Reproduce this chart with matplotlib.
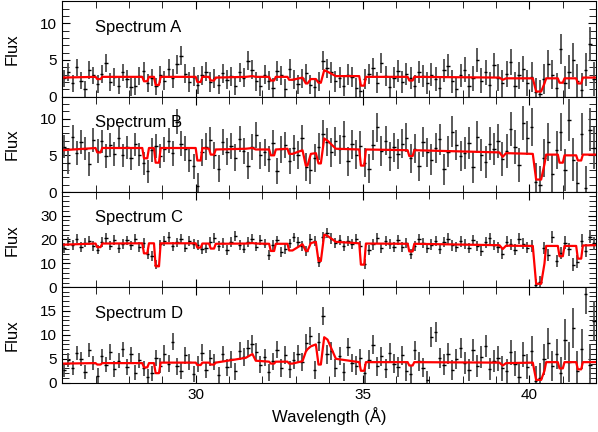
import numpy as np
import matplotlib
matplotlib.use("Agg")
import matplotlib.pyplot as plt
from matplotlib.ticker import MultipleLocator

plt.rcParams['font.family'] = ['Liberation Sans', 'DejaVu Sans']

### binned spectra: 8 bins per Angstrom from 26 to 42
wave = np.arange(26.0625, 42.0, 0.125)

flux_a = [2.5, 3.4, 1.8, 4.0, 2.2, 1.0, 3.6, 2.9,
          1.7, 3.1, 4.6, 2.0, 2.7, 1.5, 3.3, 2.4,
          1.3, 1.4, 2.8, 3.5, 1.9, 2.6, 1.4, 3.0,
          2.2, 3.8, 2.5, 4.4, 5.6, 3.1, 2.0, 2.7,
          1.6, 2.9, 3.4, 2.0, 2.5, 1.6, 3.2, 2.3,
          2.8, 1.5, 3.3, 2.6, 4.9, 3.7, 2.1, 1.4,
          3.0, 2.2, 1.2, 3.5, 2.9, 1.1, 3.8, 2.4,
          1.7, 2.5, 3.2, 1.6, 1.3, 2.1, 4.9, 3.9,
          3.3, 2.1, 2.6, 1.5, 3.0, 2.7, 1.2, 0.8,
          2.4, 3.1, 3.9, 1.9, 4.6, 2.8, 1.3, 2.6,
          3.5, 2.0, 3.1, 2.6, 1.5, 3.3, 2.8, 1.9,
          3.0, 2.4, 1.2, 3.6, 4.2, 2.1, 1.0, 2.9,
          3.7, 1.4, 2.5, 5.0, 2.2, 3.3, 1.6, 4.3,
          2.6, 1.8, 3.1, 4.7, 1.5, 2.9, 3.8, 1.9,
          2.7, 0.6, 0.3, 2.4, 4.4, 3.0, 1.2, 6.5,
          1.9, 3.4, 5.0, 2.1, 0.9, 3.7, 7.2, 2.4]

flux_b = [6.2, 4.0, 7.5, 5.3, 6.8, 5.9, 3.8, 7.1,
          5.6, 6.9, 4.9, 6.4, 5.2, 7.4, 5.0, 6.1,
          4.6, 6.5, 5.1, 3.9, 2.8, 5.7, 6.3, 4.9,
          5.8, 7.0, 5.3, 9.6, 6.6, 5.9, 4.4, 3.5,
          0.8, 5.4, 6.2, 7.1, 5.0, 3.2, 6.8, 5.5,
          6.3, 4.7, 7.2, 5.6, 3.6, 6.1, 7.8, 5.0,
          5.4, 4.5, 6.7, 2.9, 5.8, 6.4, 4.2, 6.0,
          5.1, 7.3, 3.4, 3.0, 4.6, 6.2, 7.9, 6.8,
          5.4, 6.9, 5.8, 7.7, 4.2, 6.5, 5.1, 6.3,
          4.0, 3.2, 6.4, 8.8, 5.6, 7.0, 4.8, 6.1,
          5.2, 6.6, 7.4, 4.6, 5.9, 3.5, 6.8, 5.4,
          4.4, 6.0, 7.2, 3.1, 5.5, 8.2, 6.4, 4.9,
          5.3, 6.7, 3.4, 7.5, 5.0, 4.1, 6.6, 5.9,
          7.0, 4.5, 5.6, 8.6, 6.1, 3.7, 9.4, 7.4,
          8.9, 1.4, 0.9, 4.6, 6.8, 2.5, 5.7, 8.2,
          3.0, 9.8, 4.4, 1.2, 7.9, 0.6, 8.5, 6.0]

flux_c = [16.5, 19.2, 17.8, 20.4, 16.9, 18.7, 19.5, 17.2,
          15.8, 18.9, 20.7, 17.4, 19.8, 16.3, 18.2, 19.6,
          17.5, 20.3, 16.8, 18.6, 14.0, 13.2, 9.5, 17.9,
          19.3, 21.0, 17.1, 18.8, 20.2, 16.6, 19.4, 18.1,
          17.7, 15.9, 16.4, 19.1, 20.6, 17.3, 18.5, 15.6,
          19.0, 21.5, 17.6, 16.2, 18.9, 20.1, 17.0, 19.7,
          18.3, 13.5, 17.7, 19.6, 14.8, 16.1, 18.4, 20.9,
          18.8, 17.2, 15.0, 20.3, 19.2, 10.6, 21.1, 22.7,
          20.4, 18.6, 19.8, 17.1, 19.5, 18.0, 20.2, 17.4,
          9.7, 15.5, 17.9, 20.8, 16.6, 19.3, 18.1, 17.0,
          19.9, 16.8, 18.5, 13.9, 17.4, 20.1, 18.7, 16.3,
          17.8, 19.4, 16.1, 18.9, 20.3, 17.5, 16.9, 19.2,
          18.1, 16.4, 19.7, 17.3, 15.2, 18.8, 20.5, 17.6,
          16.7, 14.1, 19.0, 17.9, 15.8, 20.4, 18.3, 16.5,
          17.2, 0.8, 2.4, 16.6, 13.4, 20.9, 11.2, 14.5,
          18.6, 16.0, 9.5, 10.8, 19.5, 15.3, 21.2, 18.4]

flux_d = [2.6, 4.8, 3.1, 6.2, 5.0, 2.3, 6.8, 4.1,
          1.5, 5.5, 3.8, 6.4, 2.9, 4.6, 7.0, 3.3,
          5.9, 2.1, 4.7, 3.0, 1.2, 2.0, 5.2, 3.6,
          6.1, 4.0, 8.6, 3.4, 2.5, 5.7, 4.3, 1.8,
          3.9, 6.3, 2.7, 5.1, 4.4, 1.6, 6.0, 3.2,
          4.9, 2.4, 6.6, 5.4, 7.2, 8.1, 6.4, 3.8,
          5.3, 2.2, 4.5, 6.9, 3.1, 5.8, 2.8, 4.7,
          6.0, 4.4, 8.3, 9.7, 2.6, 8.5, 14.0, 5.9,
          6.7, 3.0, 5.6, 2.3, 7.4, 4.2, 3.6, 5.1,
          2.0, 4.8, 7.9, 3.4, 5.5, 2.9, 6.2, 4.0,
          3.3, 5.7, 2.4, 1.8, 6.8, 4.5, 3.1, 0.5,
          9.5, 10.6, 5.2, 3.8, 6.1, 2.7, 4.9, 7.3,
          4.2, 2.6, 6.9, 3.5, 5.4, 7.7, 2.8, 4.6,
          5.1, 3.0, 2.4, 6.4, 4.0, 1.3, 5.8, 3.3,
          6.6, 0.4, 1.0, 4.9, 8.2, 3.5, 6.0, 2.1,
          9.0, 4.3, 11.5, 2.5, 7.1, 18.6, 3.8, 12.9]

# 1-sigma errors, one value per Angstrom
err_a = [1.2, 1.2, 1.2, 1.3, 1.3, 1.3, 1.3, 1.3, 1.4, 1.4, 1.5, 1.6, 1.7, 1.8, 2.0, 2.3]
err_b = [1.6, 1.6, 1.6, 1.7, 1.8, 1.8, 1.8, 1.9, 2.0, 2.0, 2.0, 2.1, 2.2, 2.3, 2.6, 2.9]
err_c = [2.0, 2.0, 2.0, 2.0, 2.0, 2.0, 2.0, 2.1, 2.1, 2.1, 2.1, 2.2, 2.2, 2.3, 2.5, 2.7]
err_d = [1.5, 1.6, 1.6, 1.7, 1.7, 1.8, 1.8, 1.9, 1.9, 2.0, 2.0, 2.1, 2.3, 2.6, 3.2, 4.2]

### best-fit absorption model
model_wave = [26.0, 27.0, 27.05, 27.15, 27.2, 28.4, 28.45, 28.55, 28.6, 28.75,
              28.8, 28.9, 28.95, 30.0, 30.05, 30.15, 30.2, 30.4, 30.45, 30.55,
              30.6, 31.5, 31.7, 31.8, 32.2, 32.25, 32.35, 32.4, 32.75, 32.8,
              32.9, 33.2, 33.3, 33.35, 33.45, 33.6, 33.68, 33.75, 33.85, 33.95,
              34.2, 34.9, 34.95, 35.05, 35.1, 36.35, 36.4, 36.5, 36.55, 39.1,
              39.2, 39.3, 40.1, 40.2, 40.35, 40.45, 40.5, 40.85, 40.9, 41.0,
              41.05, 41.4, 41.45, 41.55, 41.6, 42.0]
model_a = [2.6, 2.7, 2.4, 2.4, 2.7, 2.7, 2.1, 2.1, 2.7, 2.7,
           1.6, 1.6, 2.7, 2.7, 2.0, 2.0, 2.7, 2.7, 2.2, 2.2,
           2.6, 2.7, 2.8, 2.7, 2.7, 2.2, 2.2, 2.7, 2.7, 2.3,
           2.3, 2.6, 1.8, 1.8, 2.4, 2.4, 1.9, 1.9, 3.6, 3.4,
           2.8, 2.8, 1.5, 1.5, 2.7, 2.7, 2.2, 2.2, 2.7, 2.6,
           2.3, 2.5, 2.5, 0.7, 0.7, 1.8, 2.5, 2.5, 1.9, 1.9,
           2.5, 2.5, 1.8, 1.8, 2.6, 2.6]
model_b = [5.7, 6.0, 5.4, 5.4, 6.0, 6.0, 4.6, 4.6, 6.0, 6.0,
           4.0, 4.0, 6.0, 6.0, 4.3, 4.3, 6.0, 5.9, 5.1, 5.1,
           5.8, 5.9, 6.0, 5.8, 5.8, 5.0, 5.0, 5.8, 5.9, 5.2,
           5.2, 5.7, 3.6, 3.6, 5.2, 5.3, 3.9, 3.9, 7.3, 7.0,
           5.9, 5.8, 3.6, 3.6, 5.8, 5.7, 4.9, 4.9, 5.7, 5.4,
           4.8, 5.3, 5.2, 1.7, 1.7, 3.8, 5.1, 5.1, 4.0, 4.0,
           5.0, 5.0, 4.3, 4.3, 5.1, 5.1]
model_c = [17.8, 18.3, 16.8, 16.8, 18.3, 18.4, 14.2, 14.2, 18.4, 18.4,
           8.8, 8.8, 18.4, 18.4, 16.6, 16.6, 18.3, 18.3, 16.2, 16.2,
           18.2, 18.3, 18.5, 18.3, 18.2, 15.2, 15.2, 18.2, 18.2, 15.4,
           15.4, 18.0, 15.2, 15.2, 18.5, 19.0, 11.0, 11.0, 22.0, 21.5,
           19.0, 18.4, 9.5, 9.5, 18.3, 18.2, 15.0, 15.0, 18.2, 17.6,
           16.0, 17.4, 17.3, 1.5, 1.5, 10.0, 17.3, 17.3, 13.0, 13.0,
           17.3, 17.3, 12.0, 12.0, 17.5, 17.6]
model_d = [4.0, 4.1, 3.8, 3.8, 4.1, 4.1, 3.2, 3.2, 4.1, 4.1,
           2.0, 2.0, 4.2, 4.2, 3.7, 3.7, 4.2, 4.2, 3.8, 3.8,
           4.2, 5.2, 6.0, 4.6, 4.4, 4.0, 4.0, 4.4, 4.4, 4.0,
           4.0, 4.5, 6.5, 7.0, 7.6, 8.0, 3.8, 3.8, 9.5, 9.0,
           5.0, 4.3, 2.5, 2.5, 4.3, 4.3, 3.6, 3.6, 4.3, 4.2,
           3.6, 4.1, 4.2, 0.6, 0.6, 2.5, 4.3, 4.3, 3.0, 3.0,
           4.3, 4.3, 2.8, 2.8, 4.3, 4.3]

labels = ["Spectrum A", "Spectrum B", "Spectrum C", "Spectrum D"]
fluxes = [flux_a, flux_b, flux_c, flux_d]
errors = [err_a, err_b, err_c, err_d]
models = [model_a, model_b, model_c, model_d]
ylims = [13, 13, 39.8, 19.9]
ymajor = [5, 5, 10, 5]
yminor = [1, 1, 2, 1]

fig, axes = plt.subplots(4, 1, sharex=True, figsize=(5.98, 4.32), dpi=100)
fig.subplots_adjust(left=0.104, right=0.997, top=0.997, bottom=0.114, hspace=0)

for ax, lab, fl, er, mo, yl, yM, ym in zip(axes, labels, fluxes, errors, models,
                                            ylims, ymajor, yminor):
    yerr = np.repeat(er, 8)
    ax.errorbar(wave, fl, yerr=yerr, fmt='none', ecolor='0.3', elinewidth=1.3)
    ax.errorbar(wave, fl, xerr=0.05, fmt='none', ecolor='k', elinewidth=1.0)
    ax.plot(model_wave, mo, color='red', lw=1.6)
    ax.set_xlim(26, 42)
    ax.set_ylim(0, yl)
    ax.yaxis.set_major_locator(MultipleLocator(yM))
    ax.yaxis.set_minor_locator(MultipleLocator(ym))
    ax.xaxis.set_major_locator(MultipleLocator(5))
    ax.xaxis.set_minor_locator(MultipleLocator(1))
    ax.tick_params(which='both', direction='in', top=True, right=True, labelsize=11)
    ax.tick_params(which='major', length=6)
    ax.tick_params(which='minor', length=5)
    ax.set_ylabel("Flux", fontsize=12)
    ax.yaxis.set_label_coords(-0.08, 0.5)
    ax.text(0.062, 0.73, lab, transform=ax.transAxes, fontsize=12, va='center')

axes[-1].set_xlabel("Wavelength (Å)", fontsize=12)

plt.savefig("out.png", dpi=100)
